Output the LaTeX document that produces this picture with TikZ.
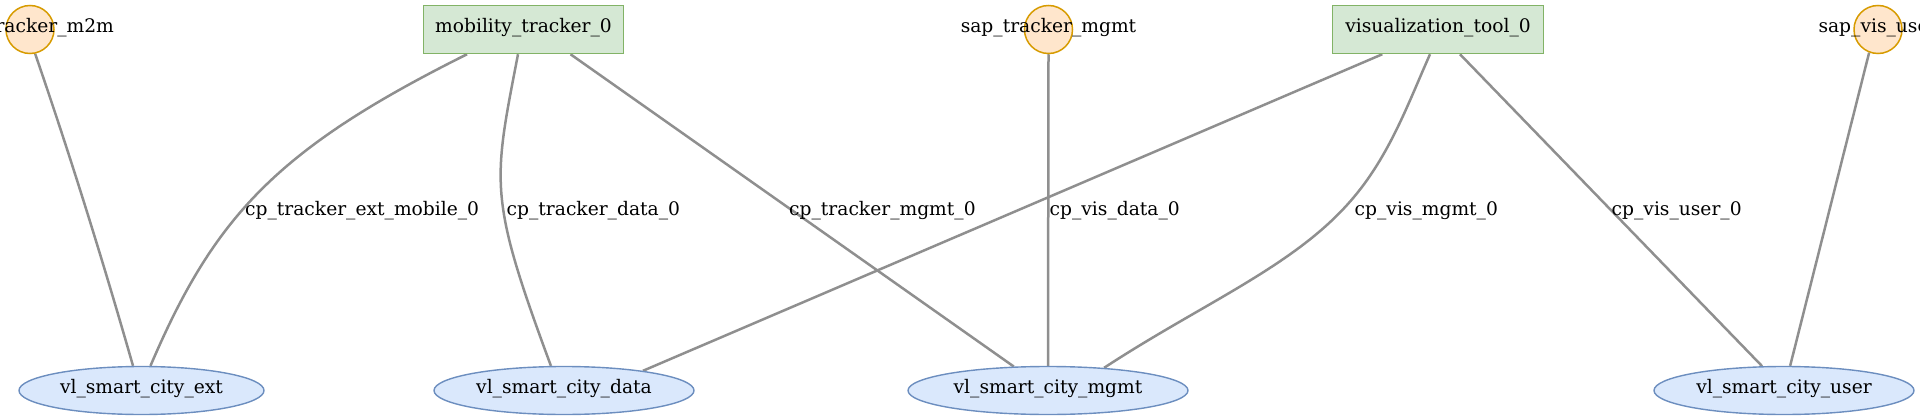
\documentclass[tikz,border=0pt]{standalone}
\usepackage{fontspec}
\setmainfont{DejaVu Serif}
\usetikzlibrary{shapes.geometric}
\pgfdeclarelayer{bg}
\pgfsetlayers{bg,main}
\definecolor{orfill}{HTML}{FFE6CC}
\definecolor{ordraw}{HTML}{D79B00}
\definecolor{grfill}{HTML}{D5E8D4}
\definecolor{grdraw}{HTML}{82B366}
\definecolor{blfill}{HTML}{DAE8FC}
\definecolor{bldraw}{HTML}{6C8EBF}
\definecolor{edgegray}{HTML}{8F8F8F}
\begin{document}
\begin{tikzpicture}[x=1pt,y=-1pt,
  lbl/.style={font=\fontsize{18.67pt}{22pt}\selectfont, text height=0.8em, text depth=0.2em, inner sep=0pt},
  sapnode/.style={circle, draw=ordraw, fill=orfill, line width=1.5pt, minimum size=48pt, inner sep=0pt},
  vnfnode/.style={rectangle, draw=grdraw, fill=grfill, line width=1.5pt, minimum height=48pt, lbl},
  vlnode/.style={ellipse, draw=bldraw, fill=blfill, line width=1.4pt, minimum height=48pt, lbl},
  link/.style={draw=edgegray, line width=2.5pt},
  cplabel/.style={lbl, anchor=base west}
]
\useasboundingbox (0,0) rectangle (1920,420);

% top row
\node[sapnode, label={[lbl]center:sap\_tracker\_m2m}] (m2m) at (30,29.5) {};
\node[vnfnode, minimum width=200pt] (mob) at (523.5,29.5) {mobility\_tracker\_0};
\node[sapnode, label={[lbl]center:sap\_tracker\_mgmt}] (sapm) at (1048.5,29.5) {};
\node[vnfnode, minimum width=211pt] (vis) at (1438,29.5) {visualization\_tool\_0};
\node[sapnode, label={[lbl]center:sap\_vis\_user}] (sapu) at (1878,29.5) {};

% bottom row
\node[vlnode, minimum width=245pt] (ext) at (141.5,390.5) {vl\_smart\_city\_ext};
\node[vlnode, minimum width=260pt] (data) at (564,390.5) {vl\_smart\_city\_data};
\node[vlnode, minimum width=280pt] (mgmt) at (1048,390.5) {vl\_smart\_city\_mgmt};
\node[vlnode, minimum width=260pt] (user) at (1784,390.5) {vl\_smart\_city\_user};

% connectors
\begin{pgfonlayer}{bg}
\draw[link] (m2m.-78) .. controls (70.7,157) and (103.3,262) .. (ext.109.2);
\draw[link] ([xshift=-56.5pt]mob.south) .. controls (277,149) and (214.5,216) .. (ext.70.8);
\draw[link] ([xshift=-5.5pt]mob.south) .. controls (493,184) and (488,196) .. (data.118.1);
\draw[link] ([xshift=47pt]mob.south) -- (mgmt.145.1);
\draw[link] (sapm.south) -- (mgmt.north);
\draw[link] ([xshift=-55.7pt]vis.south) -- (data.14.5);
\draw[link] ([xshift=-8pt]vis.south) .. controls (1407,106) and (1388,160) .. (1347,205)
            .. controls (1290,268) and (1200,305) .. (mgmt.22.7);
\draw[link] ([xshift=22pt]vis.south) -- (user.132.3);
\draw[link] (sapu.-111) -- (user.76.1);
\end{pgfonlayer}

% connector labels
\node[cplabel] (l1) at (245,215.5) {cp\_tracker\_ext\_mobile\_0};
\node[cplabel] (l2) at (506.5,215.5) {cp\_tracker\_data\_0};
\node[cplabel] (l3) at (789,215.5) {cp\_tracker\_mgmt\_0};
\node[cplabel] (l4) at (1049.5,215.5) {cp\_vis\_data\_0};
\node[cplabel] (l5) at (1354.5,215.5) {cp\_vis\_mgmt\_0};
\node[cplabel] (l6) at (1611.5,215.5) {cp\_vis\_user\_0};
\end{tikzpicture}
\end{document}
